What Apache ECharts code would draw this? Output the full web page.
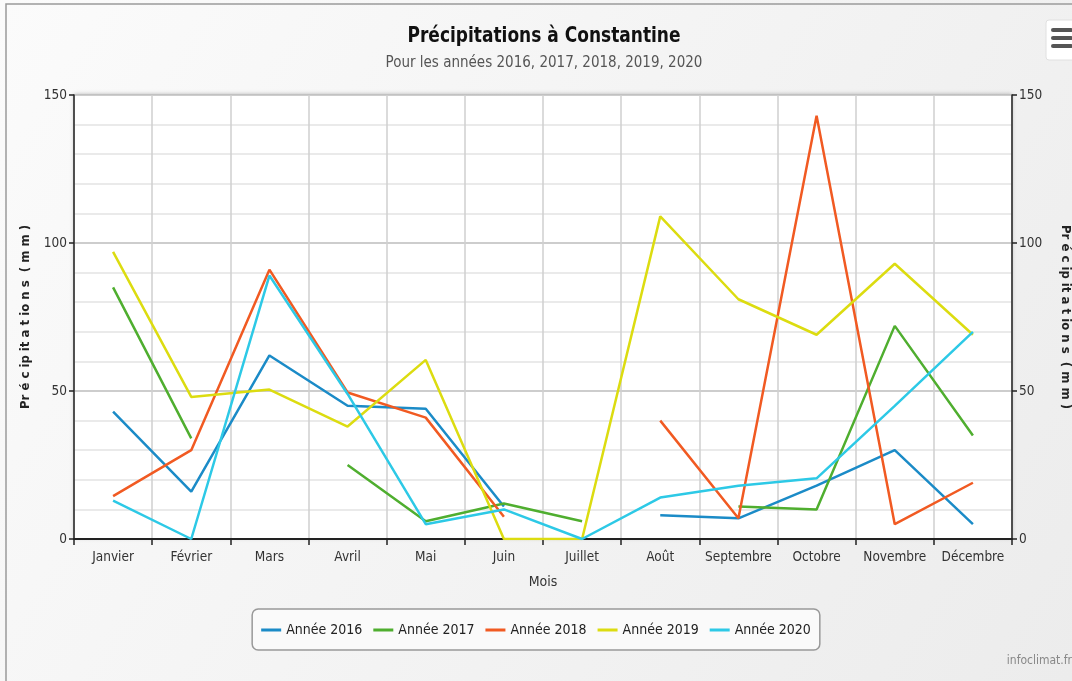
<!DOCTYPE html>
<html lang="fr">
<head>
<meta charset="utf-8">
<title>Précipitations à Constantine</title>
<script src="https://cdn.jsdelivr.net/npm/echarts@6/dist/echarts.min.js"></script>
<style>
  html, body { margin: 0; padding: 0; background: #f2f2f2; overflow: hidden; }
  #chart { width: 1072px; height: 681px; }
</style>
</head>
<body>
<div id="chart"></div>
<script>
// Monthly precipitation (mm) at Constantine, 2016–2020; null = no data
const months = ['Janvier', 'Février', 'Mars', 'Avril', 'Mai', 'Juin', 'Juillet', 'Août', 'Septembre', 'Octobre', 'Novembre', 'Décembre'];
const rain2016 = [43, 16, 62, 45, 44, 11, null, 8, 7, 18, 30, 5];
const rain2017 = [85, 34, null, 25, 6, 12, 6, null, 11, 10, 72, 35];
const rain2018 = [14.5, 30, 91, 49.5, 41, 7.5, null, 40, 7, 143, 5, 19];
const rain2019 = [97, 48, 50.5, 38, 60.5, 0, 0, 109, 81, 69, 93, 69];
const rain2020 = [13, 0, 89, 49, 5, 10, 0, 14, 18, 20.5, 45, 70];
const yTicks = [0, 50, 100, 150];

const FONT = '"DejaVu Sans Condensed", "Liberation Sans Narrow", "DejaVu Sans", sans-serif';
const colors = ['#1b8bc7', '#4fae2f', '#f15a22', '#dcdc10', '#2dc9e6'];

const seriesDefs = [
  { name: 'Année 2016', data: rain2016 },
  { name: 'Année 2017', data: rain2017 },
  { name: 'Année 2018', data: rain2018 },
  { name: 'Année 2019', data: rain2019 },
  { name: 'Année 2020', data: rain2020 }
];

function yAxisDef(position) {
  return {
    type: 'value',
    position: position,
    min: yTicks[0],
    max: yTicks[yTicks.length - 1],
    interval: yTicks[1] - yTicks[0],
    name: 'Pr é c ip it a t io n s  ( m m )',
    nameLocation: 'middle',
    nameRotate: position === 'left' ? 90 : -90,
    nameGap: position === 'left' ? 42 : 47,
    nameTextStyle: { fontFamily: FONT, fontWeight: 'bold', fontSize: 13, color: '#222' },
    axisLine: { show: true, lineStyle: { color: '#222', width: 1.5 } },
    axisTick: { show: true, length: 5, lineStyle: { color: '#222', width: 1.5 } },
    axisLabel: { fontFamily: FONT, fontSize: 13.5, color: '#333', margin: 7 },
    splitLine: { show: position === 'left', lineStyle: { color: '#bdbdbd', width: 1.5 } },
    minorTick: { show: false, splitNumber: 5 },
    minorSplitLine: { show: position === 'left', lineStyle: { color: '#e4e4e4', width: 1.5 } }
  };
}

const chart = echarts.init(document.getElementById('chart'), null, { renderer: 'canvas' });

chart.setOption({
  backgroundColor: {
    type: 'linear', x: 0, y: 0, x2: 1, y2: 1,
    colorStops: [{ offset: 0, color: '#fbfbfb' }, { offset: 1, color: '#ececec' }]
  },
  color: colors,
  animation: false,
  textStyle: { fontFamily: FONT },
  graphic: [
    { type: 'rect', shape: { x: 6, y: 4, width: 1200, height: 700 }, style: { fill: 'none', stroke: '#9a9a9a', lineWidth: 1.5 }, silent: true },
    { type: 'text', x: 544, y: 36, scaleX: 0.86, style: { text: 'Précipitations à Constantine', font: 'bold 22px ' + FONT, fill: '#111', align: 'center', verticalAlign: 'middle' } },
    { type: 'text', x: 544, y: 63, style: { text: 'Pour les années 2016, 2017, 2018, 2019, 2020', font: '15px ' + FONT, fill: '#555', align: 'center', verticalAlign: 'middle' } },
    { type: 'text', x: 1072, y: 661, style: { text: 'infoclimat.fr', font: '12px ' + FONT, fill: '#888', align: 'right', verticalAlign: 'middle' } },
    { type: 'rect', shape: { x: 1046, y: 20, width: 30, height: 40, r: 3 }, style: { fill: '#ffffff', stroke: '#e0e0e0' }, silent: true },
    { type: 'rect', shape: { x: 1051, y: 28, width: 22, height: 4, r: 2 }, style: { fill: '#555' }, silent: true },
    { type: 'rect', shape: { x: 1051, y: 36, width: 22, height: 4, r: 2 }, style: { fill: '#555' }, silent: true },
    { type: 'rect', shape: { x: 1051, y: 44, width: 22, height: 4, r: 2 }, style: { fill: '#555' }, silent: true }
  ],
  grid: {
    left: 74, right: 60, top: 95, bottom: 142,
    outerBoundsMode: 'none',
    containLabel: false,
    show: true, backgroundColor: '#ffffff', borderWidth: 0,
    shadowColor: 'rgba(0,0,0,0.25)', shadowBlur: 4, shadowOffsetY: -1
  },
  legend: {
    top: 609, left: 'center',
    orient: 'horizontal',
    data: seriesDefs.map(s => s.name),
    icon: 'rect', itemWidth: 20, itemHeight: 3, itemGap: 11,
    borderColor: '#999', borderWidth: 1.5, borderRadius: 6,
    backgroundColor: '#fafafa',
    padding: [14, 9, 13, 9],
    textStyle: { fontFamily: FONT, fontSize: 14, color: '#222' }
  },
  xAxis: {
    type: 'category',
    data: months,
    boundaryGap: true,
    name: 'Mois',
    nameLocation: 'middle',
    nameGap: 36,
    nameTextStyle: { fontFamily: FONT, fontSize: 14, color: '#333' },
    axisLine: { show: true, lineStyle: { color: '#222', width: 2 } },
    axisTick: { show: true, length: 6, alignWithLabel: false, lineStyle: { color: '#222', width: 1.5 } },
    axisLabel: { fontFamily: FONT, fontSize: 13.5, color: '#333', margin: 11, interval: 0 },
    splitLine: { show: true, lineStyle: { color: '#cfcfcf', width: 1.5 } }
  },
  yAxis: [yAxisDef('left'), yAxisDef('right')],
  series: seriesDefs.map(s => ({
    name: s.name,
    type: 'line',
    data: s.data,
    yAxisIndex: 0,
    showSymbol: false,
    connectNulls: false,
    lineStyle: { width: 2.5 },
    emphasis: { disabled: true }
  }))
});
</script>
</body>
</html>
